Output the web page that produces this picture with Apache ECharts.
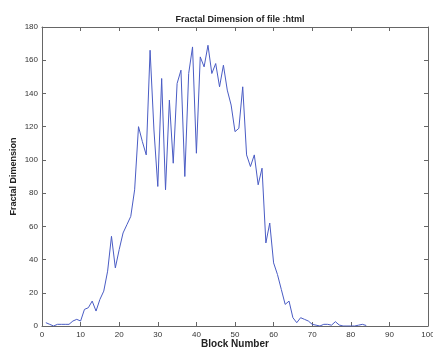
<!DOCTYPE html>
<html>
<head>
<meta charset="utf-8">
<script src="https://cdn.jsdelivr.net/npm/echarts@6/dist/echarts.min.js"></script>
<style>
  html, body { margin: 0; padding: 0; background: #fff; }
  #chart { width: 433px; height: 350px; }
</style>
</head>
<body>
<div id="chart"></div>
<script>
// block numbers start at 1 (one value per block)
var fractalValues = [
  2, 1, 0, 1, 1, 1, 1, 3, 4, 3,
  10, 11, 15, 9, 16, 21, 33, 54, 35, 46,
  56, 61, 66, 82, 120, 111, 103, 166, 118, 84,
  149, 82, 136, 98, 146, 154, 90, 152, 168, 104,
  162, 156, 169, 152, 158, 144, 157, 142, 133, 117,
  119, 144, 103, 96, 103, 85, 95, 50, 62, 38,
  31, 22, 13, 15, 5, 2, 5, 4, 3, 1,
  0.5, 0, 1, 1, 0.5, 2.6, 0.6, 0, 0, 0,
  0, 0.5, 1, 0.3
];
var xTicks = [0, 10, 20, 30, 40, 50, 60, 70, 80, 90, 100];
var yTicks = [0, 20, 40, 60, 80, 100, 120, 140, 160, 180];

var points = fractalValues.map(function (v, i) { return [i + 1, v]; });

var axisColor = "#666";
var labelStyle = { color: "#333", fontSize: 8, fontFamily: "Liberation Sans, Arial, sans-serif" };

function xAx(pos, show) {
  return {
    type: "value", position: pos,
    min: xTicks[0], max: xTicks[xTicks.length - 1], interval: xTicks[1] - xTicks[0],
    axisLine: { show: true, onZero: false, lineStyle: { color: axisColor, width: 1 } },
    axisTick: { show: true, inside: true, length: 4, lineStyle: { color: axisColor } },
    axisLabel: Object.assign({ show: show, margin: 5 }, labelStyle),
    splitLine: { show: false }
  };
}
function yAx(pos, show) {
  return {
    type: "value", position: pos,
    min: yTicks[0], max: yTicks[yTicks.length - 1], interval: yTicks[1] - yTicks[0],
    axisLine: { show: true, onZero: false, lineStyle: { color: axisColor, width: 1 } },
    axisTick: { show: true, inside: true, length: 4, lineStyle: { color: axisColor } },
    axisLabel: Object.assign({ show: show, margin: 4 }, labelStyle),
    splitLine: { show: false }
  };
}

var myChart = echarts.init(document.getElementById("chart"));
var bottomX = xAx("bottom", true);
bottomX.name = "Block Number";
bottomX.nameLocation = "middle";
bottomX.nameGap = 13;
bottomX.nameMoveOverlap = false;
bottomX.nameTextStyle = { color: "#222", fontSize: 10, fontWeight: "bold", fontFamily: "Liberation Sans, Arial, sans-serif" };
var leftY = yAx("left", true);
leftY.name = "Fractal Dimension";
leftY.nameLocation = "middle";
leftY.nameGap = 24;
leftY.nameMoveOverlap = false;
leftY.nameTextStyle = { color: "#222", fontSize: 9, fontWeight: "bold", fontFamily: "Liberation Sans, Arial, sans-serif" };

myChart.setOption({
  animation: false,
  backgroundColor: "#fff",
  title: {
    text: "Fractal Dimension of file :html",
    left: 235, top: 10, textAlign: "center",
    textStyle: { color: "#222", fontSize: 9, fontWeight: "bold", fontFamily: "Liberation Sans, Arial, sans-serif" }
  },
  grid: { left: 42, right: 5, top: 27, bottom: 24, containLabel: false, outerBoundsMode: "none" },
  xAxis: [bottomX, xAx("top", false)],
  yAxis: [leftY, yAx("right", false)],
  series: [{
    type: "line",
    data: points,
    xAxisIndex: 0, yAxisIndex: 0,
    symbol: "none",
    lineStyle: { color: "#4a5cc4", width: 1 }
  }]
});
</script>
</body>
</html>
